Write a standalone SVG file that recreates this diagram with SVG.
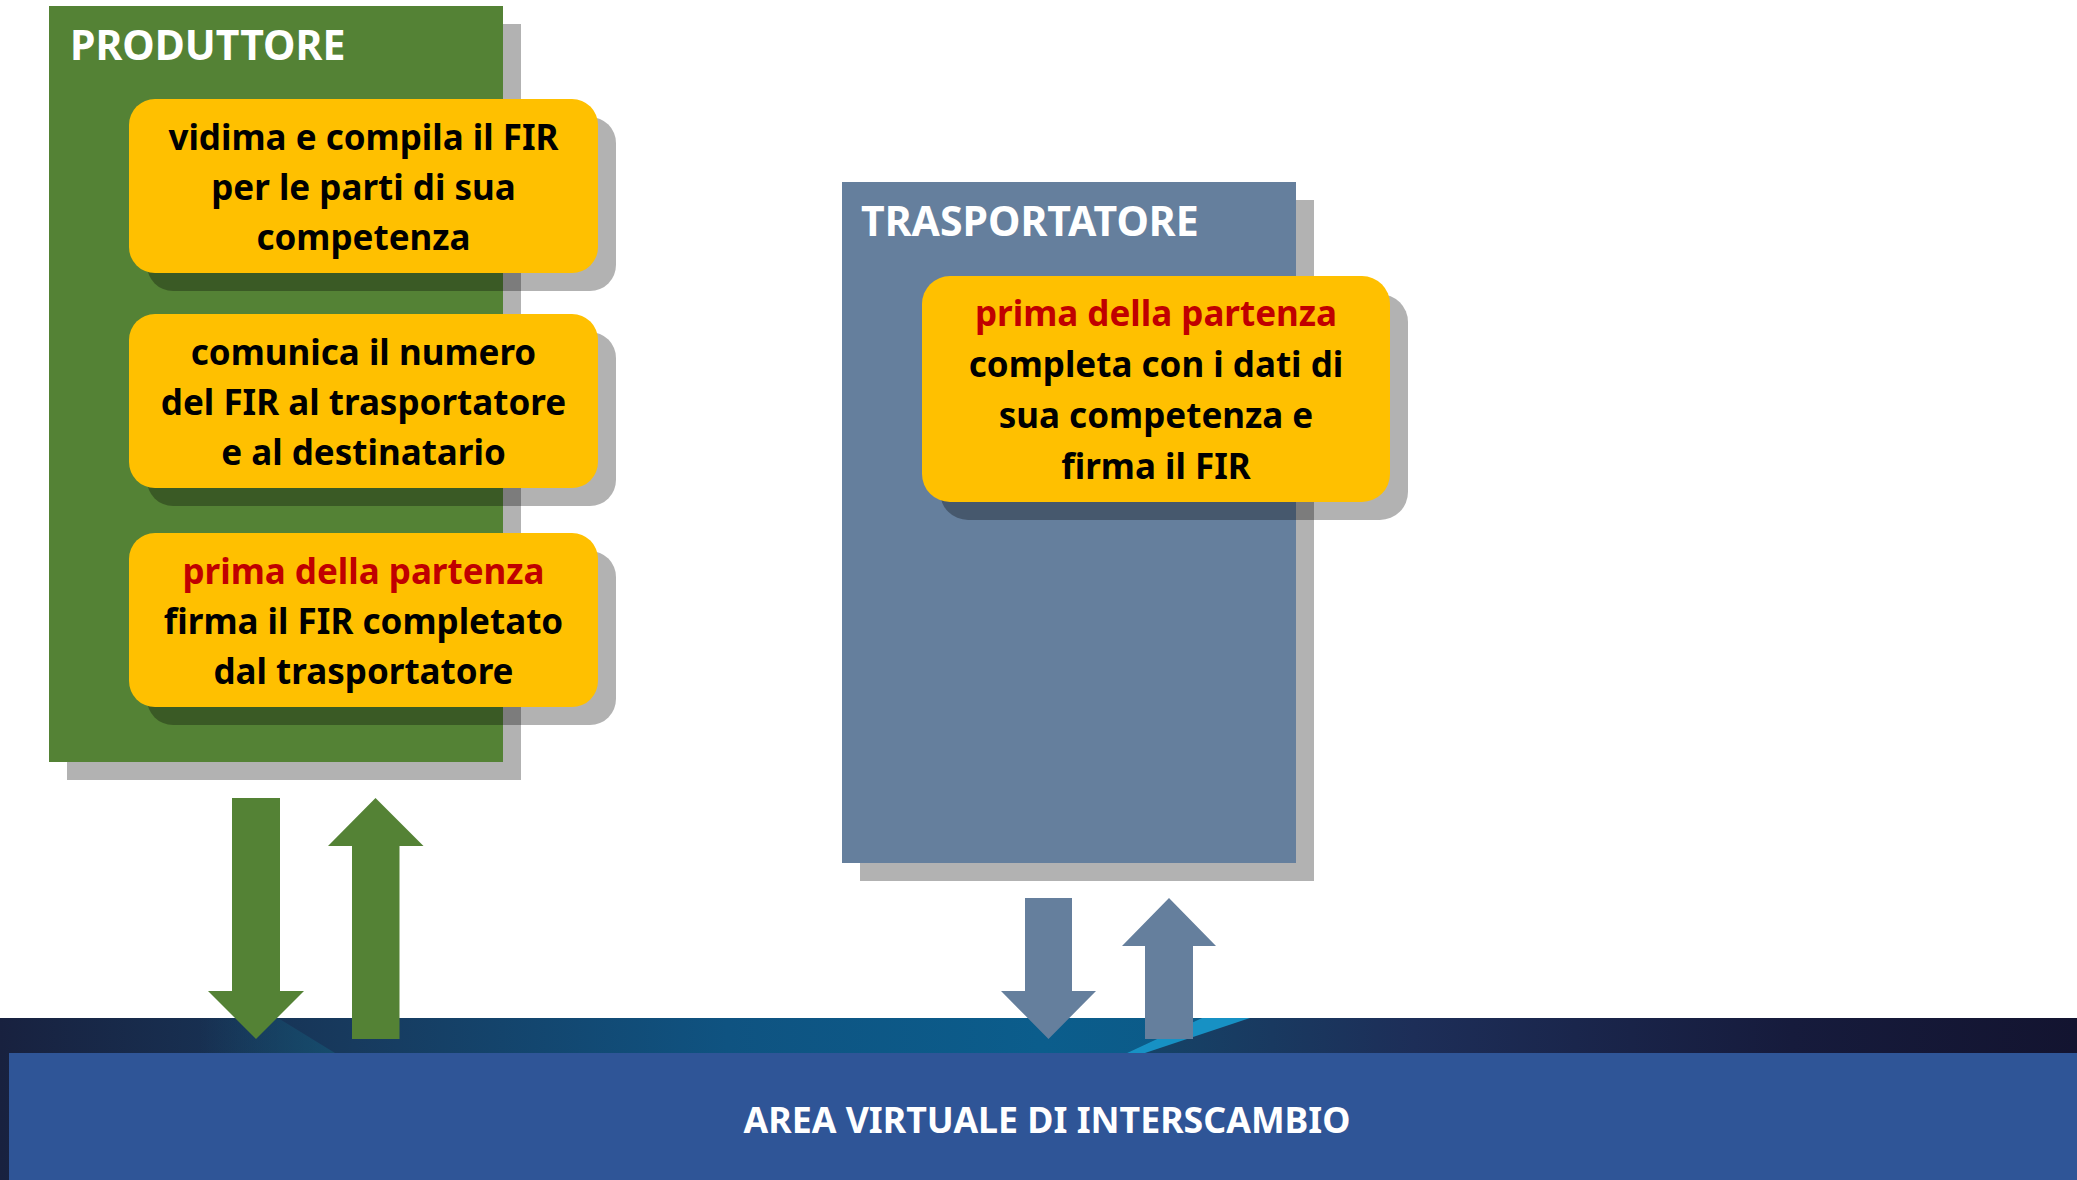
<svg xmlns="http://www.w3.org/2000/svg" width="2077" height="1180" viewBox="0 0 2077 1180">
<style>
.sh{fill:#000;fill-opacity:0.3}
.yb{fill:#ffc000}
.t{font-family:"Noto Sans","Open Sans","DejaVu Sans",sans-serif;font-weight:bold;font-size:35px;fill:#000;text-anchor:middle}
.red{fill:#c00000}
.ttl{font-family:"Noto Sans","Open Sans","DejaVu Sans",sans-serif;font-weight:bold;font-size:41px;fill:#fff}
</style>
<defs>
<linearGradient id="band" x1="0" y1="0" x2="2077" y2="0" gradientUnits="userSpaceOnUse">
<stop offset="0" stop-color="#18213f"/>
<stop offset="0.17" stop-color="#173a5e"/>
<stop offset="0.35" stop-color="#0f5381"/>
<stop offset="0.5" stop-color="#0b5d8c"/>
<stop offset="0.6" stop-color="#0c5a87"/>
<stop offset="1" stop-color="#0c5a87"/>
</linearGradient>
<linearGradient id="band2" x1="1130" y1="0" x2="2077" y2="0" gradientUnits="userSpaceOnUse">
<stop offset="0" stop-color="#154468"/>
<stop offset="0.3" stop-color="#1d2e58"/>
<stop offset="0.7" stop-color="#161b3c"/>
<stop offset="1" stop-color="#131430"/>
</linearGradient>
<linearGradient id="tri" x1="200" y1="0" x2="335" y2="0" gradientUnits="userSpaceOnUse">
<stop offset="0" stop-color="#165070" stop-opacity="0"/>
<stop offset="1" stop-color="#165070" stop-opacity="0.8"/>
</linearGradient>
</defs>
<rect x="0" y="0" width="2077" height="1180" fill="#fff"/>

<g id="area">
<rect x="0" y="1018" width="2077" height="162" fill="url(#band)"/>
<polygon points="200,1018 278,1018 335,1053 180,1053" fill="url(#tri)"/>
<polygon points="1202,1018 2077,1018 2077,1053 1127,1053" fill="url(#band2)"/>
<polygon points="1202,1018 1250,1018 1145,1053 1127,1053" fill="#1791c4"/>
<rect x="9" y="1053" width="2068" height="127" fill="#2f5597"/>
<text x="1047" y="1133" class="ttl" style="font-size:35px" text-anchor="middle" textLength="607" lengthAdjust="spacingAndGlyphs">AREA VIRTUALE DI INTERSCAMBIO</text>
</g>

<g id="produttore">
<rect class="sh" x="67" y="24" width="454" height="756"/>
<rect x="49" y="6" width="454" height="756" fill="#548235"/>
<text x="70" y="60" class="ttl">PRODUTTORE</text>
</g>

<g id="p-step1">
<rect class="sh" x="147" y="117" width="469" height="174" rx="26"/>
<rect class="yb" x="129" y="99" width="469" height="174" rx="26"/>
<text class="t" x="363.5" y="150">vidima e compila il FIR</text>
<text class="t" x="363.5" y="200">per le parti di sua</text>
<text class="t" x="363.5" y="250">competenza</text>
</g>

<g id="p-step2">
<rect class="sh" x="147" y="332" width="469" height="174" rx="26"/>
<rect class="yb" x="129" y="314" width="469" height="174" rx="26"/>
<text class="t" x="363.5" y="365">comunica il numero</text>
<text class="t" x="363.5" y="415">del FIR al trasportatore</text>
<text class="t" x="363.5" y="465">e al destinatario</text>
</g>

<g id="p-step3">
<rect class="sh" x="147" y="551" width="469" height="174" rx="26"/>
<rect class="yb" x="129" y="533" width="469" height="174" rx="26"/>
<text class="t red" x="363.5" y="584">prima della partenza</text>
<text class="t" x="363.5" y="634">firma il FIR completato</text>
<text class="t" x="363.5" y="684">dal trasportatore</text>
</g>

<g id="trasportatore">
<rect class="sh" x="860" y="200" width="454" height="681"/>
<rect x="842" y="182" width="454" height="681" fill="#657f9d"/>
<text x="861" y="236" class="ttl">TRASPORTATORE</text>
</g>

<g id="t-step1">
<rect class="sh" x="940" y="294" width="468" height="226" rx="28"/>
<rect class="yb" x="922" y="276" width="468" height="226" rx="28"/>
<text class="t red" x="1156" y="326">prima della partenza</text>
<text class="t" x="1156" y="377">completa con i dati di</text>
<text class="t" x="1156" y="428">sua competenza e</text>
<text class="t" x="1156" y="479">firma il FIR</text>
</g>

<g id="connectors">
<polygon fill="#548235" points="232,798 280,798 280,991 304,991 256,1039 208,991 232,991"/>
<polygon fill="#548235" points="375.5,798 423.5,846 399.5,846 399.5,1039 352,1039 352,846 328,846"/>
<polygon fill="#657f9d" points="1025,898 1072,898 1072,991 1096,991 1048.5,1039 1001,991 1025,991"/>
<polygon fill="#657f9d" points="1169,898 1216,946 1193,946 1193,1039 1145,1039 1145,946 1122,946"/>
</g>
</svg>
